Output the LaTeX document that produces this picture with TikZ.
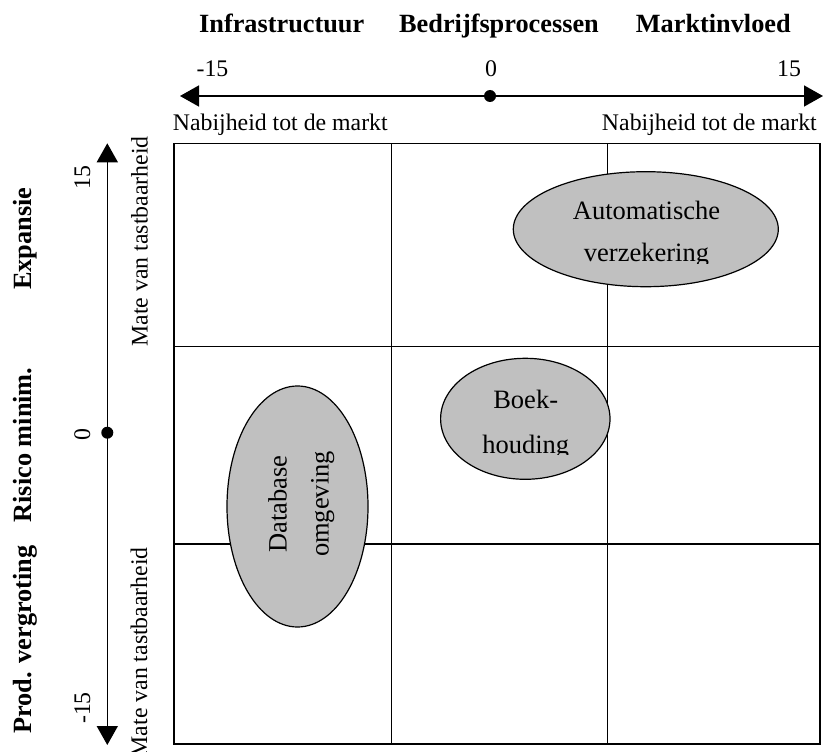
\documentclass[tikz,border=0pt]{standalone}
\usepackage{fontspec}
\setmainfont{Liberation Serif}
\usetikzlibrary{arrows.meta,shapes.geometric}
\definecolor{blobgray}{RGB}{192,192,192}

\begin{document}
\begin{tikzpicture}[x=1pt,y=-1pt,
    every node/.style={inner sep=0pt,font=\fontsize{23.8}{28}\selectfont},
    head/.style={font=\fontsize{26.3}{30}\selectfont\bfseries},
    blobtext/.style={font=\fontsize{26.5}{30}\selectfont},
    axis/.style={line width=1.6pt,{Triangle[length=19pt,width=21pt]}-{Triangle[length=19pt,width=21pt]}},
    gridline/.style={line width=1.5pt},
    blob/.style={ellipse,draw,line width=1.2pt,fill=blobgray}]
    \useasboundingbox (0,0) rectangle (823,752);

    % horizontal axis
    \draw (180,96) coordinate (xleft);
    \draw (823,96) coordinate (xright);
    \draw (490,96) coordinate (xzero);
    \draw[axis] (xleft) -- (xright);
    \fill (xzero) circle (6);
    \node[head,anchor=base] (infra) at (281.7,33) {Infrastructuur};
    \node[head,anchor=base] (bedrijf) at (499,33) {Bedrijfsprocessen};
    \node[head,anchor=base] (markt) at (713.3,33) {Marktinvloed};
    \node[anchor=base] (xmin) at (212.5,77) {-15};
    \node[anchor=base] (xnul) at (491,77) {0};
    \node[anchor=base] (xmax) at (789,77) {15};
    \node[anchor=base west] (nabijl) at (172.7,130.7) {Nabijheid tot de markt};
    \node[anchor=base east] (nabijr) at (817,130.7) {Nabijheid tot de markt};

    % vertical axis
    \draw (107.3,143.3) coordinate (ytop);
    \draw (107.3,745) coordinate (ybottom);
    \draw (107.3,432.7) coordinate (yzero);
    \draw[axis] (ybottom) -- (ytop);
    \fill (yzero) circle (6);
    \node[rotate=90,anchor=base] (ymax) at (90,177.5) {15};
    \node[rotate=90,anchor=base] (ynul) at (90,434.7) {0};
    \node[rotate=90,anchor=base] (ymin) at (90,708) {-15};
    \node[rotate=90,anchor=base] (mateb) at (147.7,241.5) {Mate van tastbaarheid};
    \node[rotate=90,anchor=base] (mateo) at (147.2,652.2) {Mate van tastbaarheid};
    \node[head,rotate=90,anchor=base] (expansie) at (31.7,238.8) {Expansie};
    \node[head,rotate=90,anchor=base] (risico) at (31.7,445) {Risico minim.};
    \node[head,rotate=90,anchor=base] (prod) at (31.7,639.5) {Prod. vergroting};

    % grid
    \draw[gridline] (174,143.3) rectangle (820,744);
    \draw[gridline] (391.7,143.3) -- (391.7,744);
    \draw[gridline] (607.5,143.3) -- (607.5,744);
    \draw[gridline] (174,346.7) -- (820,346.7);
    \draw[gridline] (174,544) -- (820,544);

    % ellipses
    \node[blob,minimum width=265,minimum height=115] (auto) at (645.8,229.2) {};
    \node[blobtext,anchor=base] (autoa) at (646.5,219.3) {Automatische};
    \begin{scope}
        \clip (500,230) rectangle (800,263);
        \node[blobtext,anchor=base] (autob) at (646.5,261.7) {verzekering};
    \end{scope}
    \node[blob,minimum width=169.4,minimum height=121] (boek) at (525.3,418.8) {};
    \node[blobtext,anchor=base] (boeka) at (525.7,408.3) {Boek-};
    \begin{scope}
        \clip (440,420) rectangle (610,454.5);
        \node[blobtext,anchor=base] (boekb) at (525.7,453.3) {houding};
    \end{scope}
    \node[blob,minimum width=141,minimum height=241] (db) at (297.5,506.5) {};
    \node[blobtext,rotate=90,anchor=base] (dba) at (286.5,504) {Database};
    \node[blobtext,rotate=90,anchor=base] (dbb) at (328.5,504) {omgeving};
\end{tikzpicture}
\end{document}
